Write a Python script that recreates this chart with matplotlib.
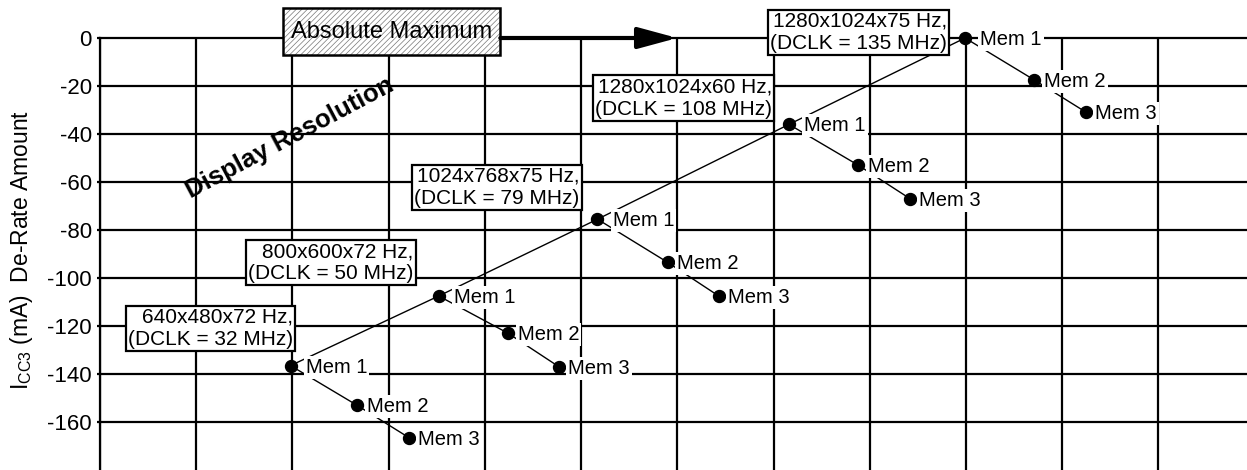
import matplotlib
matplotlib.use("Agg")
import matplotlib.pyplot as plt
from matplotlib.patches import Rectangle

plt.rcParams['font.family'] = ['Liberation Sans', 'DejaVu Sans']
plt.rcParams['mathtext.fontset'] = 'custom'
plt.rcParams['mathtext.rm'] = 'Liberation Sans'
plt.rcParams['hatch.linewidth'] = 0.5

# Display resolutions and the three memory configurations per resolution
resolutions = [
    "640x480x72 Hz,\n(DCLK = 32 MHz)",
    "800x600x72 Hz,\n(DCLK = 50 MHz)",
    "1024x768x75 Hz,\n(DCLK = 79 MHz)",
    "1280x1024x60 Hz,\n(DCLK = 108 MHz)",
    "1280x1024x75 Hz,\n(DCLK = 135 MHz)",
]
mem_labels = ["Mem 1", "Mem 2", "Mem 3"]

mem1_x = [1.98, 3.52, 5.17, 7.16, 8.99]
mem1_y = [-136.5, -107.5, -75.5, -36.0, 0.0]
mem2_x = [2.67, 4.24, 5.90, 7.88, 9.71]
mem2_y = [-153.0, -123.0, -93.5, -53.0, -17.5]
mem3_x = [3.21, 4.77, 6.43, 8.42, 10.25]
mem3_y = [-166.5, -137.0, -107.5, -67.0, -31.0]

y_ticks = [0, -20, -40, -60, -80, -100, -120, -140, -160]

# offsets (points) of the resolution boxes from each Mem 1 point
box_offsets = [(2, 27), (-18, 24), (-13, 23), (-12, 19), (-13, 4)]
# horizontal gap (points) between a marker and its "Mem n" label
mem_label_dx = [11, 7, 6.5]

fig = plt.figure(figsize=(12.47, 4.70), dpi=100)
ax = fig.add_axes([100 / 1247, 0, 1147 / 1247, 432 / 470])
ax.set_xlim(0, 11.92)
ax.set_ylim(-180, 0)

# grid
ax.set_xticks(range(0, 12))
ax.set_xticklabels([])
ax.set_yticks(y_ticks)
ax.set_yticklabels([str(v) for v in y_ticks])
ax.grid(True, color='black', linewidth=1.6, zorder=0.5)
ax.set_axisbelow(True)
for gl in ax.get_ygridlines():
    gl.set_clip_on(False)
ax.tick_params(axis='x', length=0)
ax.tick_params(axis='y', length=2.5, width=1.6, pad=3.5, labelsize=16)
for s in ['top', 'right', 'bottom']:
    ax.spines[s].set_visible(False)
ax.spines['left'].set_linewidth(1.6)

ax.set_ylabel(r"I$_{\mathrm{CC3}}$ (mA)  De-Rate Amount", fontsize=16.5)
ax.yaxis.set_label_coords(-0.057, 0.51)

# display-resolution line through the Mem 1 points
ax.plot(mem1_x, mem1_y, color='black', linewidth=1.0, zorder=2, clip_on=False)

for i in range(len(resolutions)):
    xs = [mem1_x[i], mem2_x[i], mem3_x[i]]
    ys = [mem1_y[i], mem2_y[i], mem3_y[i]]
    ax.plot(xs, ys, color='black', linewidth=1.0, zorder=2, clip_on=False)
    ax.plot(xs, ys, 'o', color='black', markersize=8.6, zorder=3, clip_on=False)
    for x, y, lab, dx in zip(xs, ys, mem_labels, mem_label_dx):
        ax.annotate(lab, xy=(x, y), xytext=(dx, -5), textcoords='offset points',
                    ha='left', va='baseline', fontsize=14.5, zorder=4,
                    bbox=dict(boxstyle='square,pad=0.1', fc='white', ec='none'),
                    annotation_clip=False)
    ax.annotate(resolutions[i], xy=(mem1_x[i], mem1_y[i]), xytext=box_offsets[i],
                textcoords='offset points', ha='right', va='center',
                multialignment='right', fontsize=15, linespacing=1.2, zorder=5,
                bbox=dict(boxstyle='square,pad=0.1', fc='white', ec='black', lw=1.6),
                annotation_clip=False)

# "Absolute Maximum" hatched box and arrow
ax.add_patch(Rectangle((1.9, -7.1), 2.26, 19.6, facecolor='white', edgecolor='#777777',
                       hatch='//////', linewidth=0, zorder=4, clip_on=False))
ax.add_patch(Rectangle((1.9, -7.1), 2.26, 19.6, fill=False, edgecolor='black',
                       linewidth=1.8, zorder=4.5, clip_on=False))
ax.text(3.03, 2.7, "Absolute Maximum", ha='center', va='center', fontsize=17,
        zorder=5, clip_on=False)
ax.annotate('', xy=(6.0, 0), xytext=(4.16, 0),
            arrowprops=dict(arrowstyle='-|>,head_length=2.4,head_width=0.65',
                            mutation_scale=10, lw=3, color='black',
                            shrinkA=0, shrinkB=0),
            zorder=4, annotation_clip=False)

ax.text(1.97, -41.5, "Display Resolution", rotation=28, rotation_mode='anchor',
        ha='center', va='center', fontsize=18.5, fontweight='bold', zorder=4)

fig.savefig("out.png", dpi=100)
